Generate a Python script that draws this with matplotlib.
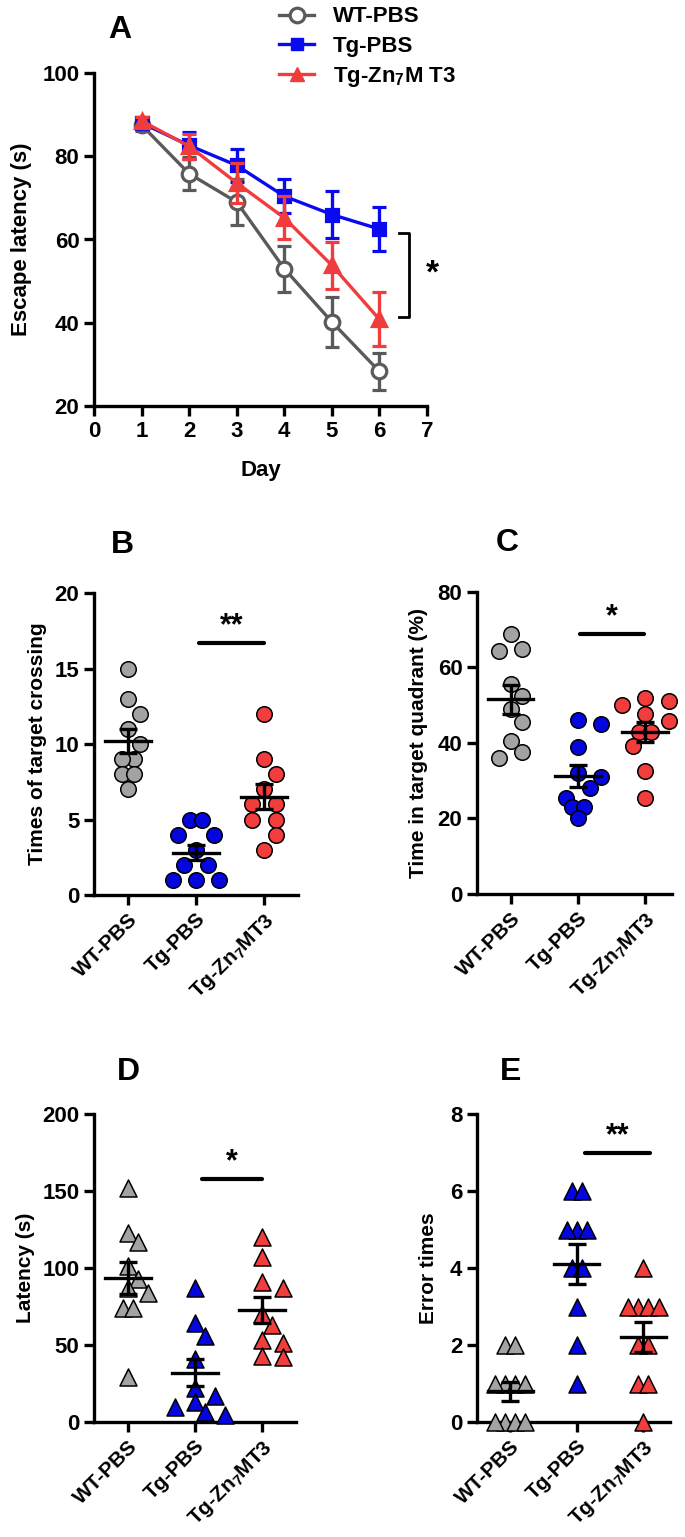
import numpy as np
import matplotlib
matplotlib.use('Agg')
import matplotlib.pyplot as plt
from matplotlib.lines import Line2D

plt.rcParams['font.family'] = ['Liberation Sans', 'DejaVu Sans']
plt.rcParams['font.weight'] = 'bold'
plt.rcParams['mathtext.fontset'] = 'custom'
plt.rcParams['mathtext.rm'] = 'Liberation Sans:bold'
plt.rcParams['mathtext.it'] = 'Liberation Sans:bold'
plt.rcParams['mathtext.bf'] = 'Liberation Sans:bold'

# ---- panel A: escape latency over days (mean, SEM) ----
days = [1, 2, 3, 4, 5, 6]
wt_mean = [87.5, 75.8, 69.0, 53.0, 40.2, 28.3]
wt_sem = [1.5, 3.9, 5.6, 5.5, 6.0, 4.4]
tg_mean = [88.0, 82.6, 77.8, 70.4, 66.0, 62.5]
tg_sem = [1.5, 3.2, 4.0, 4.1, 5.7, 5.2]
zn_mean = [88.5, 82.4, 73.6, 65.2, 53.8, 40.8]
zn_sem = [1.0, 3.0, 4.8, 5.2, 5.6, 6.5]

groups = ['WT-PBS', 'Tg-PBS', r'Tg-Zn$_7$MT3']

# ---- panels B-E: individual animals ----
cross_wt = [15, 13, 12, 11, 10, 9, 9, 8, 8, 7]
cross_tg = [5, 5, 4, 4, 3, 2, 2, 1, 1, 1]
cross_zn = [12, 9, 8, 7, 6, 6, 5, 5, 4, 3]

quad_wt = [69, 65, 64.5, 55.7, 52.4, 48.9, 45.6, 40.6, 37.6, 36]
quad_tg = [46, 45, 39, 32, 31, 28, 25.5, 23, 23, 20]
quad_zn = [52, 51, 50, 47.6, 45.8, 43, 43, 39.3, 32.5, 25.3]

lat_wt = [152, 123, 117, 101, 93, 87, 84, 74, 74, 29]
lat_tg = [87, 64, 56, 41, 22, 17, 13, 10, 6.5, 4.3]
lat_zn = [120, 107, 91, 87, 70, 63, 53, 51, 43, 42]

err_wt = [2, 2, 1, 1, 1, 1, 0, 0, 0, 0]
err_tg = [6, 6, 5, 5, 5, 4, 4, 3, 2, 1]
err_zn = [4, 3, 3, 3, 3, 2, 2, 1, 1, 0]

line_cols = ['#5a5a5a', '#0a0af0', '#f03c3c']
fill_cols = ['#a3a3a3', '#0505e0', '#f23d3d']

W, H = 685, 1537
fig = plt.figure(figsize=(W / 100, H / 100), dpi=100)
FS = 15
TFS = 16
LW = 2.4


def add_ax(l, t, r, b):
    ax = fig.add_axes([l / W, 1 - b / H, (r - l) / W, (b - t) / H])
    for s in ['top', 'right']:
        ax.spines[s].set_visible(False)
    for s in ['left', 'bottom']:
        ax.spines[s].set_linewidth(LW)
    ax.tick_params(width=LW, length=7, labelsize=TFS)
    return ax


# panel A
axA = add_ax(94, 73, 427, 406)
axA.set_xlim(0, 7)
axA.set_ylim(20, 100)
axA.set_xticks(range(0, 8))
axA.set_yticks(range(20, 101, 20))
for m, se, c, mk, ms, z in [(wt_mean, wt_sem, line_cols[0], 'o', 10.5, 2),
                            (tg_mean, tg_sem, line_cols[1], 's', 9, 3),
                            (zn_mean, zn_sem, line_cols[2], '^', 10, 4)]:
    axA.errorbar(days, m, yerr=se, color=c, lw=LW, elinewidth=LW, capsize=5,
                 capthick=LW, marker=mk, ms=ms, mew=2.3,
                 mfc='white' if mk == 'o' else c, mec=c, zorder=z, clip_on=False)
axA.set_xlabel('Day', fontsize=FS + 1, fontweight='bold', labelpad=13)
axA.set_ylabel('Escape latency (s)', fontsize=FS + 1, fontweight='bold')
axA.yaxis.set_label_coords(-0.186, 0.5)
# bracket between Tg-PBS and Tg-Zn7MT3 on day 6
bx0, bx1 = 6.42, 6.62
axA.plot([bx0, bx1, bx1, bx0], [tg_mean[-1] - 1, tg_mean[-1] - 1, zn_mean[-1] + 0.5, zn_mean[-1] + 0.5],
         color='black', lw=2, clip_on=False)
axA.text(7.12, (tg_mean[-1] + zn_mean[-1]) / 2, '*', fontsize=24, fontweight='bold',
         ha='center', va='center')

handles = [Line2D([], [], color=line_cols[0], lw=LW, marker='o', ms=10.5, mew=2.3, mfc='white'),
           Line2D([], [], color=line_cols[1], lw=LW, marker='s', ms=9),
           Line2D([], [], color=line_cols[2], lw=LW, marker='^', ms=10)]
fig.legend(handles, ['WT-PBS', 'Tg-PBS', r'Tg-Zn$_7$M T3'], loc='upper left',
           bbox_to_anchor=(266 / W, 1 + 7 / H), frameon=False, fontsize=FS + 1,
           handlelength=1.55, handletextpad=0.85, labelspacing=0.37, borderpad=0.1)
fig.text(120 / W, 1 - 30 / H, 'A', fontsize=23, fontweight='bold', ha='center', va='center')


def swarm(vals, ppy, ppx, d):
    step = 0.78 * d
    placed = []
    for v in vals:
        yp = v * ppy
        for k in [0, 1, -1, 2, -2, 3, -3]:
            xp = k * step
            ok = True
            for px, py in placed:
                if py == yp:
                    ok = abs(xp - px) >= 0.97 * step
                else:
                    ok = (xp - px) ** 2 + (yp - py) ** 2 >= (1.05 * d) ** 2
                if not ok:
                    break
            if ok:
                break
        placed.append((xp, yp))
    offs = np.array([p[0] for p in placed])
    vals = np.asarray(vals)
    # centre rows of identical values
    for v in np.unique(vals):
        idx = np.where(vals == v)[0]
        if len(idx) > 1:
            offs[idx] -= offs[idx].mean()
    return offs / ppx


def dot_panel(box, sets, marker, ylim, step, ylabel, lab_x, sig_x, sig_y, sig_txt, letter, xr=2.5):
    ax = add_ax(*box)
    ax.set_xlim(-0.5, xr)
    ax.set_ylim(*ylim)
    ax.set_yticks(np.arange(ylim[0], ylim[1] + step / 2, step))
    ax.set_xticks([0, 1, 2])
    ax.set_xticklabels(groups, rotation=45, ha='right', rotation_mode='anchor',
                       fontsize=FS, fontweight='bold')
    bb = ax.get_window_extent()
    ppx = bb.width / (xr + 0.5)
    ppy = bb.height / (ylim[1] - ylim[0])
    d = 15.0 if marker == 'o' else 13.0
    for i, vals in enumerate(sets):
        vals = np.array(vals, dtype=float)
        offs = swarm(vals, ppy, ppx, d)
        ax.scatter(i + offs, vals, s=125 if marker == 'o' else 150, marker=marker,
                   c=fill_cols[i], edgecolors='black', linewidths=1.1, zorder=3, clip_on=False)
        m = vals.mean()
        se = vals.std(ddof=1) / np.sqrt(len(vals))
        ax.plot([i - 0.34, i + 0.34], [m, m], color='black', lw=LW, zorder=4)
        ax.errorbar(i, m, yerr=se, color='black', elinewidth=LW, capsize=6.5,
                    capthick=LW, zorder=4)
    ax.set_ylabel(ylabel, fontsize=FS, fontweight='bold')
    ax.yaxis.set_label_coords(lab_x, 0.5)
    ax.plot(sig_x, [sig_y, sig_y], color='black', lw=3, solid_capstyle='round')
    ax.annotate(sig_txt, (np.mean(sig_x), sig_y), xytext=(0, 1), textcoords='offset points',
                ha='center', va='bottom', fontsize=22, fontweight='bold')
    fig.text(letter[1] / W, 1 - letter[2] / H, letter[0], fontsize=23, fontweight='bold',
             ha='center', va='center')
    return ax


dot_panel((94, 593, 298, 895), [cross_wt, cross_tg, cross_zn], 'o', (0, 20), 5,
          'Times of target crossing', -0.23, (1.05, 2.0), 16.7, '**', ('B', 122, 545))
dot_panel((477, 592, 672, 894), [quad_wt, quad_tg, quad_zn], 'o', (0, 80), 20,
          'Time in target quadrant (%)', -0.25, (1.03, 1.98), 69, '*', ('C', 507, 543), xr=2.4)
dot_panel((94, 1114, 296, 1422), [lat_wt, lat_tg, lat_zn], '^', (0, 200), 50,
          'Latency (s)', -0.29, (1.1, 2.0), 158, '*', ('D', 128, 1072))
dot_panel((477, 1114, 670, 1422), [err_wt, err_tg, err_zn], '^', (0, 8), 2,
          'Error times', -0.2, (1.12, 2.1), 7.0, '**', ('E', 511, 1072), xr=2.4)

fig.savefig('out.png', dpi=100)
